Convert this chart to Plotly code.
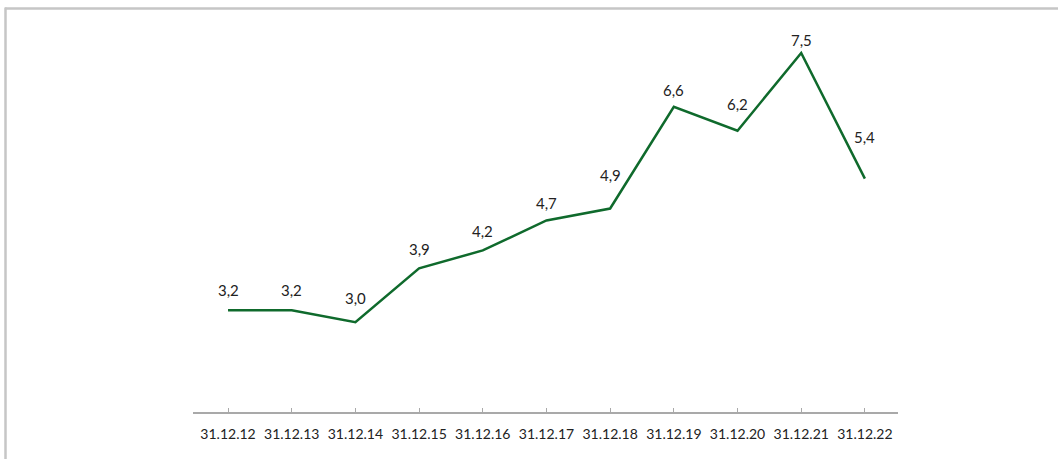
import plotly.graph_objects as go

# Year-end dates and values
dates = ["31.12.12", "31.12.13", "31.12.14", "31.12.15", "31.12.16", "31.12.17",
         "31.12.18", "31.12.19", "31.12.20", "31.12.21", "31.12.22"]
values = [3.2, 3.2, 3.0, 3.9, 4.2, 4.7, 4.9, 6.6, 6.2, 7.5, 5.4]
labels = ["3,2", "3,2", "3,0", "3,9", "4,2", "4,7", "4,9", "6,6", "6,2", "7,5", "5,4"]

# vertical lift of each value label above its point (px)
label_lift = [20, 20, 24, 19, 19, 17, 34, 17, 27, 13, 42]

LINE = "#0f6a2c"
TEXT = "#222222"
FRAME = "#c6c6c6"
FONT = "Lato, 'Open Sans', sans-serif"

fig = go.Figure()
fig.add_trace(go.Scatter(
    x=list(range(len(dates))), y=values, mode="lines",
    line=dict(color=LINE, width=2.5), hoverinfo="skip", showlegend=False,
))

for i, (v, t, d) in enumerate(zip(values, labels, label_lift)):
    fig.add_annotation(x=i, y=v, text=t, showarrow=False, yanchor="middle",
                       xanchor="center", yshift=d,
                       font=dict(family=FONT, size=15, color=TEXT))

# plot area: x 193..898, y 20..412 in a 1058x459 page
L, R, T, B = 193, 160, 20, 47
W, H = 1058 - L - R, 459 - T - B

def px(xp):
    return (xp - L) / W

def py(yp):
    return (459 - B - yp) / H

# outer frame: top and left rules
fig.add_shape(type="line", xref="paper", yref="paper",
              x0=px(5), x1=px(1060), y0=py(8.5), y1=py(8.5),
              line=dict(color=FRAME, width=2.5))
fig.add_shape(type="line", xref="paper", yref="paper",
              x0=px(5.5), x1=px(5.5), y0=py(7.5), y1=py(462),
              line=dict(color=FRAME, width=2.5))

fig.update_xaxes(
    range=[-0.55, 10.52], tickmode="array", tickvals=list(range(len(dates))),
    ticktext=dates, showgrid=False, zeroline=False,
    showline=True, linecolor="#a9a9a9", linewidth=1.5,
    ticks="inside", ticklen=4, tickcolor="#a9a9a9", tickwidth=1,
    tickfont=dict(family=FONT, size=14, color=TEXT), ticklabelstandoff=8,
)
fig.update_yaxes(range=[1.5, 8.05], visible=False, showgrid=False, zeroline=False)

fig.update_layout(
    width=1058, height=459, autosize=False,
    margin=dict(l=L, r=R, t=T, b=B),
    paper_bgcolor="white", plot_bgcolor="white",
)

fig.write_html("out.html")
